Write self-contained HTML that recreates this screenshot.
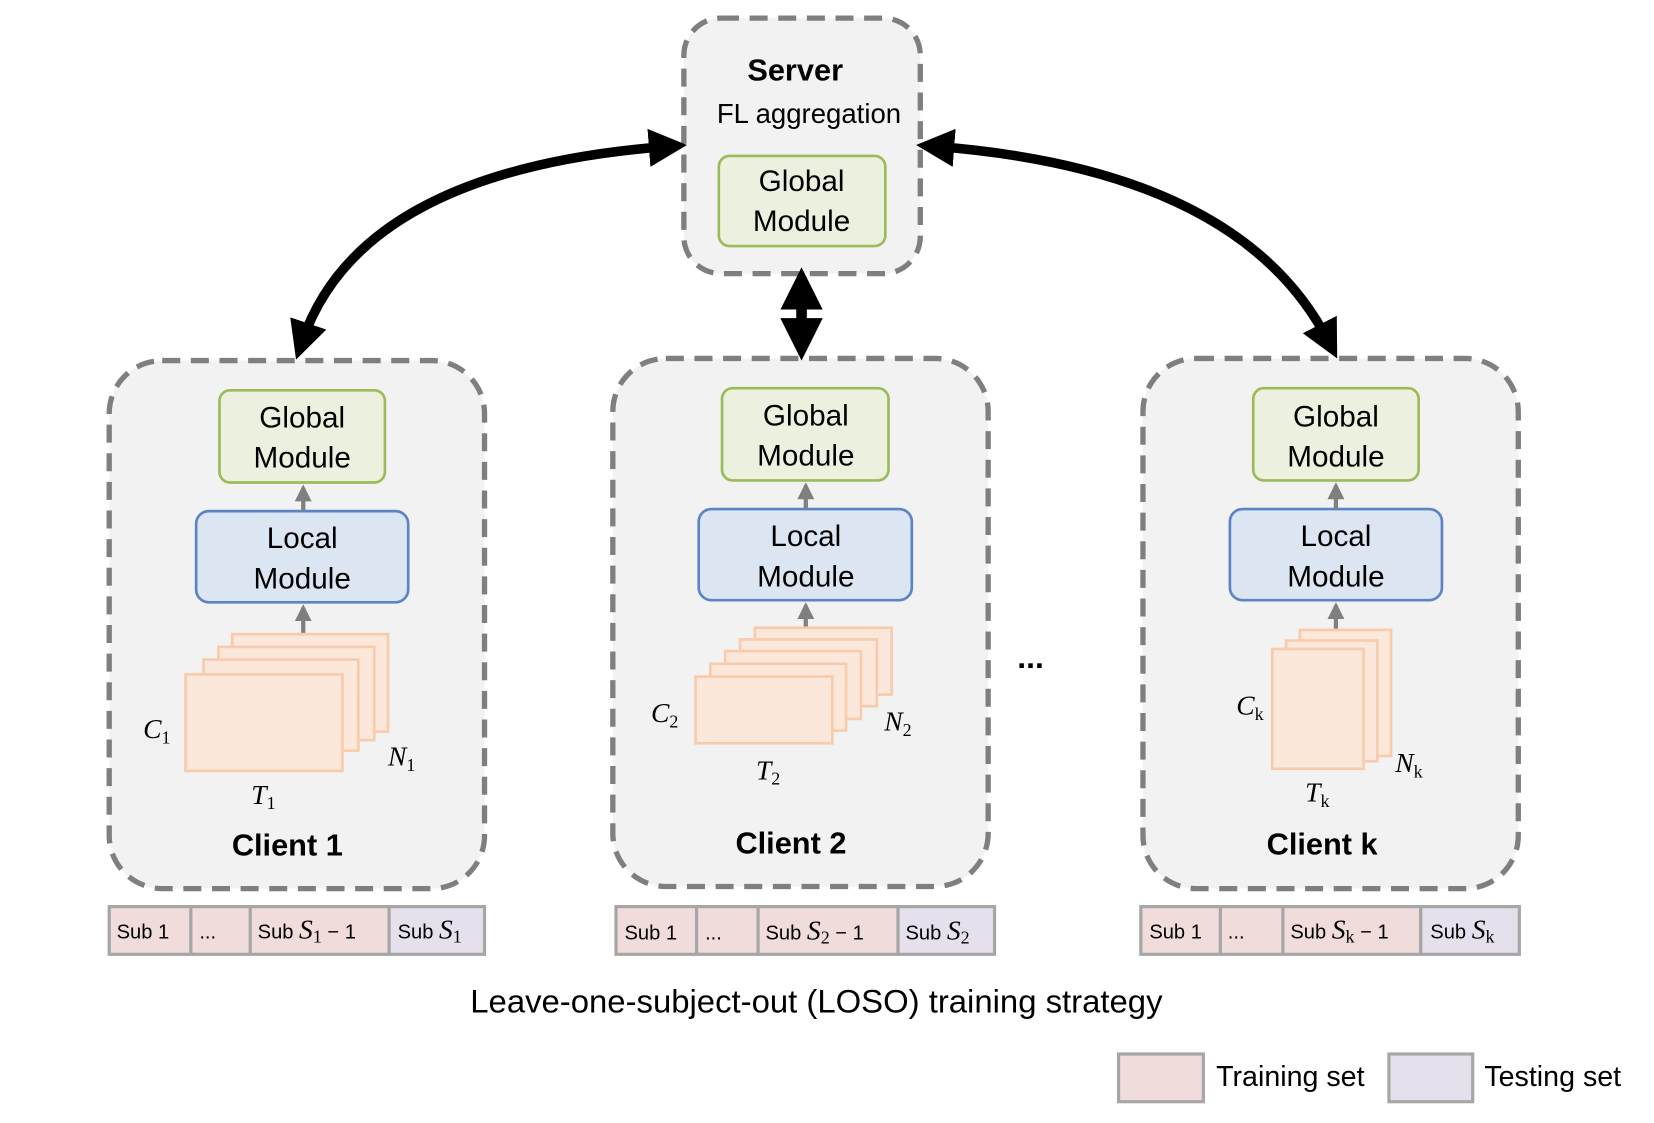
<!DOCTYPE html>
<html><head><meta charset="utf-8"><style>
html,body{margin:0;padding:0;background:#fff;}
svg{display:block;}
text{font-family:"Liberation Sans",sans-serif;fill:#000;}
.m{font-family:"Liberation Serif",serif;font-style:italic;font-size:26px;}
.s{font-family:"Liberation Serif",serif;font-style:normal;font-size:17px;}
.mod{font-size:28px;text-anchor:middle;}
.sub{font-size:19px;}
.b{font-weight:bold;font-size:29px;text-anchor:middle;}
</style></head><body>
<svg width="1654" height="1123" viewBox="0 0 1560 1059" xmlns="http://www.w3.org/2000/svg">
<defs>
<marker id="ah" viewBox="0 0 10 10" refX="5" refY="5" markerWidth="4" markerHeight="4" orient="auto-start-reverse" markerUnits="strokeWidth"><path d="M0,0 L10,5 L0,10 z" fill="#000"/></marker>
<marker id="ga" viewBox="0 0 10 10" refX="8" refY="5" markerWidth="4" markerHeight="4" orient="auto" markerUnits="strokeWidth"><path d="M0,0 L10,5 L0,10 z" fill="#7f7f7f"/></marker>
</defs>
<g fill="#f2f2f2" stroke="#7f7f7f" stroke-width="5" stroke-dasharray="17 10">
<rect x="645" y="17" width="223" height="241" rx="35"/>
<rect x="103" y="340" width="354" height="498" rx="50"/>
<rect x="578" y="338" width="354" height="498" rx="50"/>
<rect x="1078" y="338" width="354" height="500" rx="50"/>
</g>
<g fill="none" stroke="#000" stroke-width="9">
<path d="M285,322 Q340,160 630,138" marker-start="url(#ah)" marker-end="url(#ah)"/>
<path d="M882,138 Q1170,160 1253,322" marker-start="url(#ah)" marker-end="url(#ah)"/>
<path d="M756,272 L756,320" stroke-width="10" marker-start="url(#ah)" marker-end="url(#ah)"/>
</g>
<text x="750" y="76" class="b" font-size="28">Server</text>
<text x="763" y="116" font-size="26" text-anchor="middle">FL aggregation</text>
<g stroke="#9bbb59" stroke-width="2.5" fill="#ebf1de">
<rect x="678" y="147" width="157" height="85" rx="10"/>
<rect x="207" y="368" width="156" height="87" rx="10"/>
<rect x="681" y="366" width="157" height="87" rx="10"/>
<rect x="1182" y="366" width="156" height="87" rx="10"/>
</g>
<g stroke="#5b84c4" stroke-width="2.5" fill="#dce6f2">
<rect x="185" y="482" width="200" height="86" rx="12"/>
<rect x="659" y="480" width="201" height="86" rx="12"/>
<rect x="1160" y="480" width="200" height="86" rx="12"/>
</g>
<g>
<text x="756" y="180" class="mod">Global</text><text x="756" y="218" class="mod">Module</text>
<text x="285" y="403" class="mod">Global</text><text x="285" y="441" class="mod">Module</text>
<text x="760" y="401" class="mod">Global</text><text x="760" y="439" class="mod">Module</text>
<text x="1260" y="402" class="mod">Global</text><text x="1260" y="440" class="mod">Module</text>
<text x="285" y="517" class="mod">Local</text><text x="285" y="555" class="mod">Module</text>
<text x="760" y="515" class="mod">Local</text><text x="760" y="553" class="mod">Module</text>
<text x="1260" y="515" class="mod">Local</text><text x="1260" y="553" class="mod">Module</text>
</g>
<g stroke="#7f7f7f" stroke-width="4" fill="none">
<path d="M286,482 L286,460" marker-end="url(#ga)"/>
<path d="M286,597 L286,573" marker-end="url(#ga)"/>
<path d="M760,480 L760,458" marker-end="url(#ga)"/>
<path d="M760,592 L760,571" marker-end="url(#ga)"/>
<path d="M1260,480 L1260,458" marker-end="url(#ga)"/>
<path d="M1260,594 L1260,571" marker-end="url(#ga)"/>
</g>
<g fill="#fbe8da" stroke="#f8cbad" stroke-width="2.5">
<rect x="219" y="598" width="147" height="92"/>
<rect x="206" y="610" width="147" height="88"/>
<rect x="192" y="622" width="146" height="86"/>
<rect x="175" y="636" width="148" height="91"/>
<rect x="712" y="592" width="129" height="63"/>
<rect x="698" y="603" width="129" height="63"/>
<rect x="684" y="614" width="128" height="64"/>
<rect x="670" y="626" width="128" height="63"/>
<rect x="656" y="638" width="129" height="63"/>
<rect x="1226" y="594" width="86" height="119"/>
<rect x="1213" y="604" width="86" height="114"/>
<rect x="1200" y="612" width="86" height="113"/>
</g>
<text x="135" y="696" class="m">C<tspan class="s" dy="5">1</tspan></text>
<text x="366" y="722" class="m">N<tspan class="s" dy="5">1</tspan></text>
<text x="237" y="758" class="m">T<tspan class="s" dy="5">1</tspan></text>
<text x="614" y="681" class="m">C<tspan class="s" dy="5">2</tspan></text>
<text x="834" y="689" class="m">N<tspan class="s" dy="5">2</tspan></text>
<text x="713" y="735" class="m">T<tspan class="s" dy="5">2</tspan></text>
<text x="1166" y="674" class="m">C<tspan class="s" dy="5" font-style="italic">k</tspan></text>
<text x="1316" y="728" class="m">N<tspan class="s" dy="5" font-style="italic">k</tspan></text>
<text x="1231" y="756" class="m">T<tspan class="s" dy="5" font-style="italic">k</tspan></text>
<text x="271" y="807" class="b">Client 1</text>
<text x="746" y="805" class="b">Client 2</text>
<text x="1247" y="806" class="b">Client k</text>
<text x="972" y="630" font-size="30" font-weight="bold" text-anchor="middle">...</text>
<g stroke="#a6a6a6" stroke-width="3">
<rect x="103" y="855" width="264" height="45" fill="#f0dcdb"/><rect x="367" y="855" width="90" height="45" fill="#e6e0ec"/>
<line x1="180" y1="855" x2="180" y2="900"/><line x1="236" y1="855" x2="236" y2="900"/>
<rect x="581" y="855" width="266" height="45" fill="#f0dcdb"/><rect x="847" y="855" width="91" height="45" fill="#e6e0ec"/>
<line x1="657" y1="855" x2="657" y2="900"/><line x1="715" y1="855" x2="715" y2="900"/>
<rect x="1076" y="855" width="264" height="45" fill="#f0dcdb"/><rect x="1340" y="855" width="93" height="45" fill="#e6e0ec"/>
<line x1="1151" y1="855" x2="1151" y2="900"/><line x1="1210" y1="855" x2="1210" y2="900"/>
<rect x="1055" y="994" width="80" height="45" fill="#f0dcdb"/>
<rect x="1310" y="994" width="79" height="45" fill="#e6e0ec"/>
</g>
<g>
<text x="110" y="885" class="sub">Sub 1</text><text x="188" y="885" class="sub">...</text>
<text x="243" y="885" class="sub">Sub <tspan class="m" font-size="21">S</tspan><tspan class="s" font-size="13" dy="4">1</tspan><tspan dy="-4"> − 1</tspan></text>
<text x="375" y="885" class="sub">Sub <tspan class="m" font-size="21">S</tspan><tspan class="s" font-size="13" dy="4">1</tspan></text>
<text x="589" y="886" class="sub">Sub 1</text><text x="665" y="886" class="sub">...</text>
<text x="722" y="886" class="sub">Sub <tspan class="m" font-size="21">S</tspan><tspan class="s" font-size="13" dy="4">2</tspan><tspan dy="-4"> − 1</tspan></text>
<text x="854" y="886" class="sub">Sub <tspan class="m" font-size="21">S</tspan><tspan class="s" font-size="13" dy="4">2</tspan></text>
<text x="1084" y="885" class="sub">Sub 1</text><text x="1158" y="885" class="sub">...</text>
<text x="1217" y="885" class="sub">Sub <tspan class="m" font-size="21">S</tspan><tspan class="s" font-size="13" dy="4" font-style="italic">k</tspan><tspan dy="-4"> − 1</tspan></text>
<text x="1349" y="885" class="sub">Sub <tspan class="m" font-size="21">S</tspan><tspan class="s" font-size="13" dy="4" font-style="italic">k</tspan></text>
</g>
<text x="770" y="955" font-size="31" text-anchor="middle">Leave-one-subject-out (LOSO) training strategy</text>
<text x="1147" y="1024" font-size="27">Training set</text>
<text x="1400" y="1024" font-size="27">Testing set</text>
</svg>
</body></html>
